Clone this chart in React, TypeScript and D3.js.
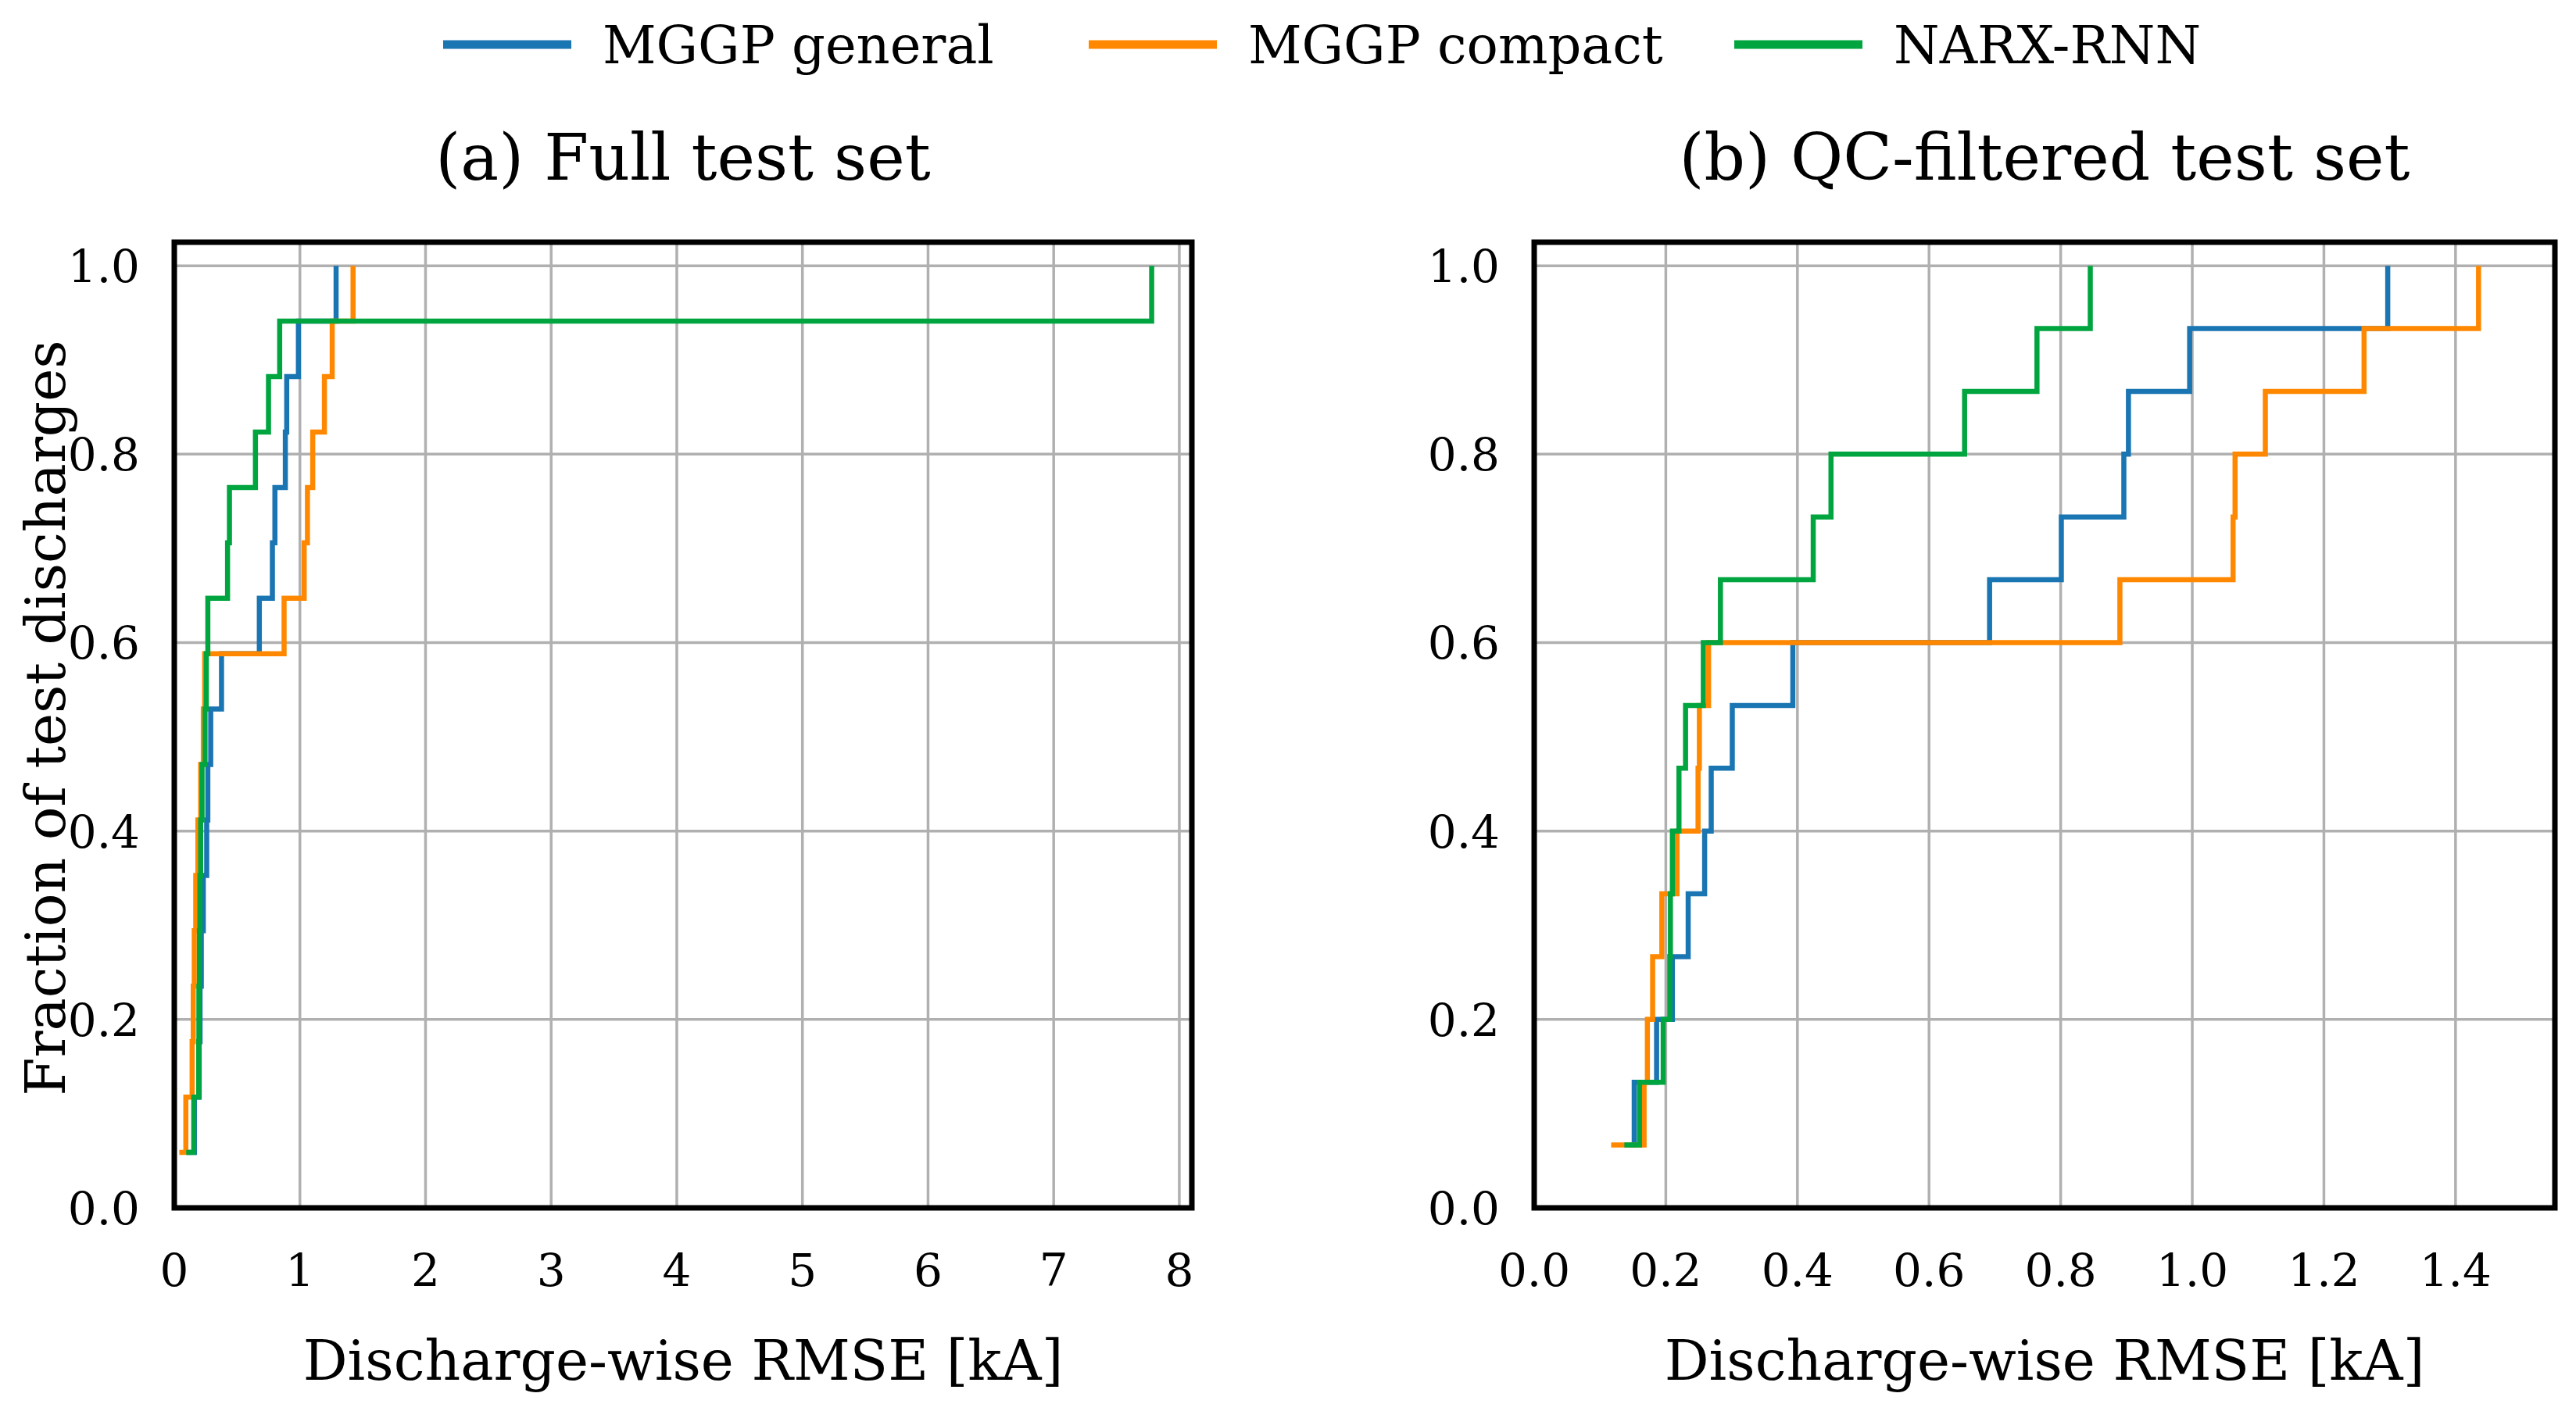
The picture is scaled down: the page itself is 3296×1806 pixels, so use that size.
import React, { useEffect, useRef } from 'react';
import * as d3 from 'd3';

// ECDF of discharge-wise RMSE [kA], sorted values per model
// (a) full test set, 17 discharges
const fullGeneral = [0.10, 0.16, 0.198, 0.205, 0.215, 0.231, 0.258, 0.267, 0.290, 0.376, 0.677, 0.781, 0.801, 0.884, 0.895, 0.988, 1.288];
const fullCompact = [0.04, 0.092, 0.142, 0.151, 0.159, 0.171, 0.188, 0.210, 0.231, 0.242, 0.874, 1.034, 1.060, 1.102, 1.195, 1.257, 1.423];
const fullNarx = [0.095, 0.155, 0.194, 0.196, 0.200, 0.204, 0.210, 0.221, 0.245, 0.255, 0.267, 0.424, 0.439, 0.646, 0.750, 0.839, 7.78];

// (b) QC-filtered test set, 15 discharges
const qcGeneral = [0.145, 0.152, 0.186, 0.210, 0.234, 0.259, 0.269, 0.301, 0.393, 0.692, 0.801, 0.896, 0.903, 0.996, 1.297];
const qcCompact = [0.117, 0.167, 0.172, 0.180, 0.194, 0.217, 0.249, 0.251, 0.265, 0.890, 1.062, 1.065, 1.111, 1.261, 1.435];
const qcNarx = [0.137, 0.160, 0.196, 0.206, 0.207, 0.210, 0.220, 0.230, 0.257, 0.283, 0.424, 0.451, 0.654, 0.764, 0.845];

const seriesNames = ['MGGP general', 'MGGP compact', 'NARX-RNN'];
const seriesColors = ['#1a75b3', '#ff8800', '#00a53f'];

const yTicks = [0, 0.2, 0.4, 0.6, 0.8, 1.0];
const fullXTicks = [0, 1, 2, 3, 4, 5, 6, 7, 8];
const qcXTicks = [0, 0.2, 0.4, 0.6, 0.8, 1.0, 1.2, 1.4];

const W = 3296;
const H = 1806;
const FONT = '"DejaVu Serif", serif';

const panels = [
  {
    title: '(a) Full test set',
    series: [fullGeneral, fullCompact, fullNarx],
    xDomain: [0, 8.1],
    xTicks: fullXTicks,
    fmt: d3.format('d'),
    left: 223,
    right: 1525,
  },
  {
    title: '(b) QC-filtered test set',
    series: [qcGeneral, qcCompact, qcNarx],
    xDomain: [0, 1.551],
    xTicks: qcXTicks,
    fmt: d3.format('.1f'),
    left: 1963,
    right: 3269,
  },
];

export default function App() {
  const svgRef = useRef<SVGSVGElement>(null);

  useEffect(() => {
    if (!svgRef.current) return;
    const svg = d3.select(svgRef.current);
    svg.selectAll('*').remove();

    const top = 310;
    const bottom = 1546;
    const y = d3.scaleLinear().domain([0, 1.025]).range([bottom, top]);

    panels.forEach((p) => {
      const x = d3.scaleLinear().domain(p.xDomain).range([p.left, p.right]);
      const g = svg.append('g');

      // grid
      g.selectAll('line.gx')
        .data(p.xTicks)
        .enter()
        .append('line')
        .attr('x1', (d) => x(d))
        .attr('x2', (d) => x(d))
        .attr('y1', top)
        .attr('y2', bottom)
        .attr('stroke', '#b0b0b0')
        .attr('stroke-width', 3.5);
      g.selectAll('line.gy')
        .data(yTicks)
        .enter()
        .append('line')
        .attr('x1', p.left)
        .attr('x2', p.right)
        .attr('y1', (d) => y(d))
        .attr('y2', (d) => y(d))
        .attr('stroke', '#b0b0b0')
        .attr('stroke-width', 3.5);

      // ECDF step lines (post)
      p.series.forEach((vals, i) => {
        const n = vals.length;
        const pts: [number, number][] = vals.map((v, k) => [v, (k + 1) / n]);
        const line = d3
          .line<[number, number]>()
          .x((d) => x(d[0]))
          .y((d) => y(d[1]))
          .curve(d3.curveStepAfter);
        g.append('path')
          .attr('d', line(pts))
          .attr('fill', 'none')
          .attr('stroke', seriesColors[i])
          .attr('stroke-width', 6.5);
      });

      // frame
      g.append('rect')
        .attr('x', p.left)
        .attr('y', top)
        .attr('width', p.right - p.left)
        .attr('height', bottom - top)
        .attr('fill', 'none')
        .attr('stroke', '#000')
        .attr('stroke-width', 7);

      // tick labels
      g.selectAll('text.xt')
        .data(p.xTicks)
        .enter()
        .append('text')
        .attr('x', (d) => x(d))
        .attr('y', 1646)
        .attr('text-anchor', 'middle')
        .attr('font-family', FONT)
        .attr('font-size', 58)
        .text((d) => p.fmt(d));
      g.selectAll('text.yt')
        .data(yTicks)
        .enter()
        .append('text')
        .attr('x', p.left - 44)
        .attr('y', (d) => y(d))
        .attr('dy', '0.36em')
        .attr('text-anchor', 'end')
        .attr('font-family', FONT)
        .attr('font-size', 58)
        .text((d) => d3.format('.1f')(d));

      // title and x label
      g.append('text')
        .attr('x', (p.left + p.right) / 2)
        .attr('y', 200)
        .attr('dy', '0.36em')
        .attr('text-anchor', 'middle')
        .attr('font-family', FONT)
        .attr('font-size', 82)
        .text(p.title);
      g.append('text')
        .attr('x', (p.left + p.right) / 2)
        .attr('y', 1740)
        .attr('dy', '0.36em')
        .attr('text-anchor', 'middle')
        .attr('font-family', FONT)
        .attr('font-size', 71)
        .text('Discharge-wise RMSE [kA]');
    });

    // y label (only left panel)
    svg.append('text')
      .attr('transform', 'translate(57,919) rotate(-90)')
      .attr('dy', '0.36em')
      .attr('text-anchor', 'middle')
      .attr('font-family', FONT)
      .attr('font-size', 71)
      .text('Fraction of test discharges');

    // legend
    const legendX = [567, 1393, 2219];
    seriesNames.forEach((name, i) => {
      svg.append('line')
        .attr('x1', legendX[i])
        .attr('x2', legendX[i] + 164)
        .attr('y1', 57)
        .attr('y2', 57)
        .attr('stroke', seriesColors[i])
        .attr('stroke-width', 11);
      svg.append('text')
        .attr('x', legendX[i] + 204)
        .attr('y', 57)
        .attr('dy', '0.36em')
        .attr('font-family', FONT)
        .attr('font-size', 67)
        .text(name);
    });
  }, []);

  return (
    <svg
      ref={svgRef}
      width={W}
      height={H}
      style={{ position: 'absolute', left: 0, top: 0, background: '#fff' }}
    />
  );
}
